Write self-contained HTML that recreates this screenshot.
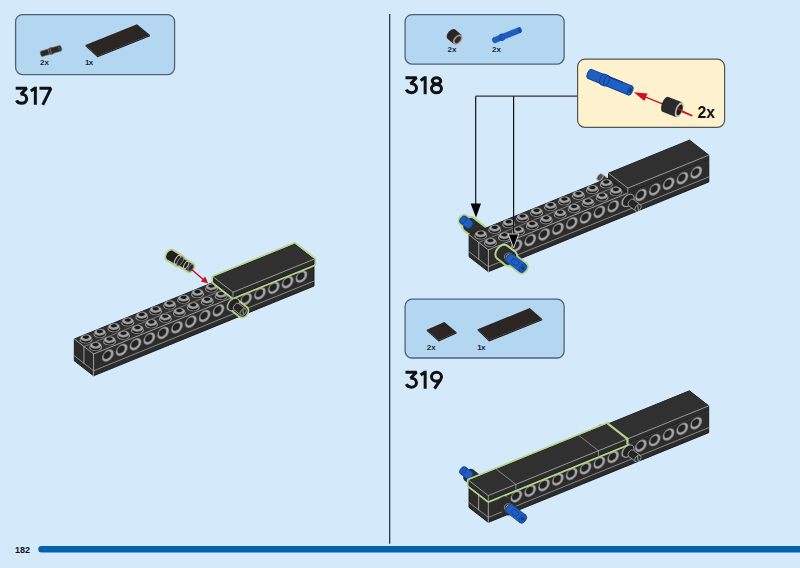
<!DOCTYPE html>
<html><head><meta charset="utf-8"><style>
html,body{margin:0;padding:0;background:#d4e9f9;width:800px;height:568px;overflow:hidden;}
svg{display:block;}
</style></head><body>
<svg width="800" height="568" viewBox="0 0 800 568">
<rect width="800" height="568" fill="#d4e9f9"/>
<rect x="15.6" y="14.6" width="159" height="60" rx="7" fill="#b3d6f1" stroke="#4f6376" stroke-width="1.3"/>
<rect x="405.1" y="14.6" width="159" height="49.5" rx="7" fill="#b3d6f1" stroke="#4f6376" stroke-width="1.3"/>
<rect x="405.1" y="299.2" width="159" height="58.8" rx="7" fill="#b3d6f1" stroke="#4f6376" stroke-width="1.3"/>
<line x1="389.7" y1="14" x2="389.7" y2="543.8" stroke="#1e2c38" stroke-width="1.2"/>
<path d="M41.5 546 H800 V552.5 H41.5 A3.25 3.25 0 0 1 41.5 546 Z" fill="#0262b0"/>
<path d="M0.2,1.5 H11.2 L5.2,7.6 M5.0,7.2 C9.0,7.2 11.2,9.4 11.2,12.0 C11.2,14.7 9.0,16.5 6.1,16.5 C3.8,16.5 1.9,15.4 1.0,13.5 M19.85,0 V18 M15.3,4.2 L19.6,1.3 M24.0,1.5 H35.4 L27.3,18" transform="translate(15.5 86.8)" fill="none" stroke="#111" stroke-width="3.0" stroke-linejoin="miter" stroke-miterlimit="1.6" stroke-linecap="butt"/>
<path d="M0.2,1.5 H11.2 L5.2,7.6 M5.0,7.2 C9.0,7.2 11.2,9.4 11.2,12.0 C11.2,14.7 9.0,16.5 6.1,16.5 C3.8,16.5 1.9,15.4 1.0,13.5 M19.85,0 V18 M15.3,4.2 L19.6,1.3 M31.2,1.5 C33.6,1.5 35.4,2.9 35.4,4.6 C35.4,6.4 33.6,7.8 31.2,7.8 C28.8,7.8 27.0,6.4 27.0,4.6 C27.0,2.9 28.8,1.5 31.2,1.5 Z M31.2,8.2 C34.0,8.2 36.2,10.1 36.2,12.4 C36.2,14.7 34.0,16.5 31.2,16.5 C28.4,16.5 26.2,14.7 26.2,12.4 C26.2,10.1 28.4,8.2 31.2,8.2 Z" transform="translate(405.3 76.2)" fill="none" stroke="#111" stroke-width="3.0" stroke-linejoin="miter" stroke-miterlimit="1.6" stroke-linecap="butt"/>
<path d="M0.2,1.5 H11.2 L5.2,7.6 M5.0,7.2 C9.0,7.2 11.2,9.4 11.2,12.0 C11.2,14.7 9.0,16.5 6.1,16.5 C3.8,16.5 1.9,15.4 1.0,13.5 M19.85,0 V18 M15.3,4.2 L19.6,1.3 M31.2,1.5 C34.0,1.5 36.2,3.5 36.2,6.0 C36.2,8.5 34.0,10.5 31.2,10.5 C28.4,10.5 26.2,8.5 26.2,6.0 C26.2,3.5 28.4,1.5 31.2,1.5 Z M35.6,8.4 L29.2,18" transform="translate(405.3 370.7)" fill="none" stroke="#111" stroke-width="3.0" stroke-linejoin="miter" stroke-miterlimit="1.6" stroke-linecap="butt"/>
<text x="15" y="553" font-family="Liberation Sans, sans-serif" font-weight="bold" font-size="9" fill="#111">182</text>
<text x="40" y="65.3" font-family="Liberation Sans, sans-serif" font-weight="bold" font-size="8" fill="#1e2a36">2x</text>
<text x="85" y="65.3" font-family="Liberation Sans, sans-serif" font-weight="bold" font-size="8" fill="#1e2a36" letter-spacing="-0.6">1x</text>
<text x="447.5" y="52.2" font-family="Liberation Sans, sans-serif" font-weight="bold" font-size="8" fill="#1e2a36">2x</text>
<text x="492" y="52.2" font-family="Liberation Sans, sans-serif" font-weight="bold" font-size="8" fill="#1e2a36">2x</text>
<text x="426.8" y="350" font-family="Liberation Sans, sans-serif" font-weight="bold" font-size="8" fill="#1e2a36">2x</text>
<text x="477.2" y="350" font-family="Liberation Sans, sans-serif" font-weight="bold" font-size="8" fill="#1e2a36" letter-spacing="-0.6">1x</text>
<polygon points="85.5,45 137,24.2 150,35 97.5,56" fill="#2b2624" stroke="none" stroke-width="0" stroke-linejoin="round" />
<polygon points="85.5,45 97.5,56 150,35 150,36.3 97.5,57.3 85.5,46.3" fill="#1c1816" stroke="none" stroke-width="0" stroke-linejoin="round" />
<g transform="translate(41.8 53.8) rotate(-16.64)"><ellipse cx="0" cy="0" rx="1.45" ry="2.9" fill="#2d2927" stroke="#8a8580" stroke-width="0.5"/><rect x="0" y="-2.9" width="9.08" height="5.8" fill="#2d2927"/><line x1="0" y1="-2.9" x2="9.08" y2="-2.9" stroke="#8a8580" stroke-width="0.5"/><line x1="0" y1="2.9" x2="9.08" y2="2.9" stroke="#8a8580" stroke-width="0.5"/><ellipse cx="9.08" cy="0" rx="1.45" ry="2.9" fill="#4a4542" stroke="#8a8580" stroke-width="0.5"/></g>
<g transform="translate(50.2 51.3) rotate(-15.52)"><ellipse cx="0" cy="0" rx="1.7" ry="3.4" fill="#3a3634" stroke="#8a8580" stroke-width="0.5"/><rect x="0" y="-3.4" width="1.87" height="6.8" fill="#3a3634"/><line x1="0" y1="-3.4" x2="1.87" y2="-3.4" stroke="#8a8580" stroke-width="0.5"/><line x1="0" y1="3.4" x2="1.87" y2="3.4" stroke="#8a8580" stroke-width="0.5"/><ellipse cx="1.87" cy="0" rx="1.7" ry="3.4" fill="#3a3634" stroke="#8a8580" stroke-width="0.5"/></g>
<g transform="translate(52.2 50.6) rotate(-16.04)"><ellipse cx="0" cy="0" rx="1.45" ry="2.9" fill="#2d2927" stroke="#6a6560" stroke-width="0.5"/><rect x="0" y="-2.9" width="8.32" height="5.8" fill="#2d2927"/><line x1="0" y1="-2.9" x2="8.32" y2="-2.9" stroke="#6a6560" stroke-width="0.5"/><line x1="0" y1="2.9" x2="8.32" y2="2.9" stroke="#6a6560" stroke-width="0.5"/><ellipse cx="8.32" cy="0" rx="1.45" ry="2.9" fill="#3b3735" stroke="#6a6560" stroke-width="0.5"/></g>
<g transform="translate(451.5 34.2) rotate(41.52)"><ellipse cx="0" cy="0" rx="3.72" ry="6" fill="#2b2624" /><rect x="0" y="-6" width="8.15" height="12" fill="#2b2624"/><ellipse cx="8.15" cy="0" rx="3.72" ry="6" fill="#9a9a9a" /></g>
<ellipse cx="457.8" cy="39.7" rx="2.3" ry="3.9" transform="rotate(41 457.8 39.7)" fill="#3a2a26"/>
<g transform="translate(494 40.4) rotate(-21.99)"><ellipse cx="0" cy="0" rx="1.49" ry="2.7" fill="#1f5fc4" stroke="#123f90" stroke-width="0.4"/><rect x="0" y="-2.7" width="28.04" height="5.4" fill="#1f5fc4"/><line x1="0" y1="-2.7" x2="28.04" y2="-2.7" stroke="#123f90" stroke-width="0.4"/><line x1="0" y1="2.7" x2="28.04" y2="2.7" stroke="#123f90" stroke-width="0.4"/><ellipse cx="28.04" cy="0" rx="1.49" ry="2.7" fill="#1a4fa8" stroke="#123f90" stroke-width="0.4"/></g>
<g transform="translate(501 37.6) rotate(-21.25)"><ellipse cx="0" cy="0" rx="1.65" ry="3.3" fill="#1f5fc4" stroke="#123f90" stroke-width="0.4"/><rect x="0" y="-3.3" width="1.93" height="6.6" fill="#1f5fc4"/><line x1="0" y1="-3.3" x2="1.93" y2="-3.3" stroke="#123f90" stroke-width="0.4"/><line x1="0" y1="3.3" x2="1.93" y2="3.3" stroke="#123f90" stroke-width="0.4"/><ellipse cx="1.93" cy="0" rx="1.65" ry="3.3" fill="#1f5fc4" stroke="#123f90" stroke-width="0.4"/></g>
<polygon points="426.8,329.7 444.4,321.9 456.6,332.3 438.7,340.2" fill="#2b2624" stroke="none" stroke-width="0" stroke-linejoin="round" />
<polygon points="426.8,329.7 438.7,340.2 456.6,332.3 456.6,333.6 438.7,341.5 426.8,331" fill="#1c1816" stroke="none" stroke-width="0" stroke-linejoin="round" />
<polygon points="477.7,329.2 529.7,308.1 542.2,319 489.1,340.2" fill="#2b2624" stroke="none" stroke-width="0" stroke-linejoin="round" />
<polygon points="477.7,329.2 489.1,340.2 542.2,319 542.2,320.3 489.1,341.5 477.7,330.5" fill="#1c1816" stroke="none" stroke-width="0" stroke-linejoin="round" />
<polygon points="93.6,375.8 314,286.04 314,264.24 294.7,249.24 74.3,339 74.3,360.8" fill="#2c2c2c" stroke="#151515" stroke-width="0.9" stroke-linejoin="round" />
<polygon points="93.6,354 314,264.24 294.7,249.24 74.3,339" fill="#303030" stroke="none" stroke-width="0" stroke-linejoin="round" />
<line x1="93.6" y1="375.8" x2="93.6" y2="354" stroke="#bdbdbd" stroke-width="0.8" stroke-linecap="round" />
<line x1="93.6" y1="354" x2="314" y2="264.24" stroke="#bdbdbd" stroke-width="0.8" stroke-linecap="round" />
<line x1="93.6" y1="354" x2="74.3" y2="339" stroke="#bdbdbd" stroke-width="0.8" stroke-linecap="round" />
<line x1="83.95" y1="363.3" x2="83.95" y2="346.5" stroke="#bdbdbd" stroke-width="0.8" stroke-linecap="round" />
<line x1="93.6" y1="370.8" x2="314" y2="281.04" stroke="#a8a8a8" stroke-width="0.75" stroke-linecap="round" />
<line x1="93.6" y1="370.8" x2="74.3" y2="355.8" stroke="#a8a8a8" stroke-width="0.75" stroke-linecap="round" />
<line x1="83.95" y1="346.5" x2="221.7" y2="290.4" stroke="#9a9a9a" stroke-width="0.7" stroke-linecap="round" />
<g transform="matrix(13.78 -5.61 0 13.6 107.84 355.5)"><circle r="0.42" fill="#a4a4a4" stroke="#5a5a5a" stroke-width="0.03"/><circle cx="-0.045" cy="-0.05" r="0.27" fill="#222"/><circle cx="-0.045" cy="-0.05" r="0.27" fill="none" stroke="#6e6e6e" stroke-width="0.025"/></g>
<g transform="matrix(13.78 -5.61 0 13.6 121.67 349.87)"><circle r="0.42" fill="#a4a4a4" stroke="#5a5a5a" stroke-width="0.03"/><circle cx="-0.045" cy="-0.05" r="0.27" fill="#222"/><circle cx="-0.045" cy="-0.05" r="0.27" fill="none" stroke="#6e6e6e" stroke-width="0.025"/></g>
<g transform="matrix(13.78 -5.61 0 13.6 135.5 344.23)"><circle r="0.42" fill="#a4a4a4" stroke="#5a5a5a" stroke-width="0.03"/><circle cx="-0.045" cy="-0.05" r="0.27" fill="#222"/><circle cx="-0.045" cy="-0.05" r="0.27" fill="none" stroke="#6e6e6e" stroke-width="0.025"/></g>
<g transform="matrix(13.78 -5.61 0 13.6 149.33 338.6)"><circle r="0.42" fill="#a4a4a4" stroke="#5a5a5a" stroke-width="0.03"/><circle cx="-0.045" cy="-0.05" r="0.27" fill="#222"/><circle cx="-0.045" cy="-0.05" r="0.27" fill="none" stroke="#6e6e6e" stroke-width="0.025"/></g>
<g transform="matrix(13.78 -5.61 0 13.6 163.16 332.97)"><circle r="0.42" fill="#a4a4a4" stroke="#5a5a5a" stroke-width="0.03"/><circle cx="-0.045" cy="-0.05" r="0.27" fill="#222"/><circle cx="-0.045" cy="-0.05" r="0.27" fill="none" stroke="#6e6e6e" stroke-width="0.025"/></g>
<g transform="matrix(13.78 -5.61 0 13.6 176.99 327.34)"><circle r="0.42" fill="#a4a4a4" stroke="#5a5a5a" stroke-width="0.03"/><circle cx="-0.045" cy="-0.05" r="0.27" fill="#222"/><circle cx="-0.045" cy="-0.05" r="0.27" fill="none" stroke="#6e6e6e" stroke-width="0.025"/></g>
<g transform="matrix(13.78 -5.61 0 13.6 190.82 321.7)"><circle r="0.42" fill="#a4a4a4" stroke="#5a5a5a" stroke-width="0.03"/><circle cx="-0.045" cy="-0.05" r="0.27" fill="#222"/><circle cx="-0.045" cy="-0.05" r="0.27" fill="none" stroke="#6e6e6e" stroke-width="0.025"/></g>
<g transform="matrix(13.78 -5.61 0 13.6 204.65 316.07)"><circle r="0.42" fill="#a4a4a4" stroke="#5a5a5a" stroke-width="0.03"/><circle cx="-0.045" cy="-0.05" r="0.27" fill="#222"/><circle cx="-0.045" cy="-0.05" r="0.27" fill="none" stroke="#6e6e6e" stroke-width="0.025"/></g>
<g transform="matrix(13.78 -5.61 0 13.6 218.48 310.44)"><circle r="0.42" fill="#a4a4a4" stroke="#5a5a5a" stroke-width="0.03"/><circle cx="-0.045" cy="-0.05" r="0.27" fill="#222"/><circle cx="-0.045" cy="-0.05" r="0.27" fill="none" stroke="#6e6e6e" stroke-width="0.025"/></g>
<g transform="matrix(13.78 -5.61 0 13.6 232.31 304.81)"><circle r="0.42" fill="#a4a4a4" stroke="#5a5a5a" stroke-width="0.03"/><circle cx="-0.045" cy="-0.05" r="0.27" fill="#222"/><circle cx="-0.045" cy="-0.05" r="0.27" fill="none" stroke="#6e6e6e" stroke-width="0.025"/></g>
<g transform="matrix(13.78 -5.61 0 13.6 246.14 299.17)"><circle r="0.42" fill="#a4a4a4" stroke="#5a5a5a" stroke-width="0.03"/><circle cx="-0.045" cy="-0.05" r="0.27" fill="#222"/><circle cx="-0.045" cy="-0.05" r="0.27" fill="none" stroke="#6e6e6e" stroke-width="0.025"/></g>
<g transform="matrix(13.78 -5.61 0 13.6 259.97 293.54)"><circle r="0.42" fill="#a4a4a4" stroke="#5a5a5a" stroke-width="0.03"/><circle cx="-0.045" cy="-0.05" r="0.27" fill="#222"/><circle cx="-0.045" cy="-0.05" r="0.27" fill="none" stroke="#6e6e6e" stroke-width="0.025"/></g>
<g transform="matrix(13.78 -5.61 0 13.6 273.8 287.91)"><circle r="0.42" fill="#a4a4a4" stroke="#5a5a5a" stroke-width="0.03"/><circle cx="-0.045" cy="-0.05" r="0.27" fill="#222"/><circle cx="-0.045" cy="-0.05" r="0.27" fill="none" stroke="#6e6e6e" stroke-width="0.025"/></g>
<g transform="matrix(13.78 -5.61 0 13.6 287.63 282.28)"><circle r="0.42" fill="#a4a4a4" stroke="#5a5a5a" stroke-width="0.03"/><circle cx="-0.045" cy="-0.05" r="0.27" fill="#222"/><circle cx="-0.045" cy="-0.05" r="0.27" fill="none" stroke="#6e6e6e" stroke-width="0.025"/></g>
<g transform="matrix(13.78 -5.61 0 13.6 301.46 276.65)"><circle r="0.42" fill="#a4a4a4" stroke="#5a5a5a" stroke-width="0.03"/><circle cx="-0.045" cy="-0.05" r="0.27" fill="#222"/><circle cx="-0.045" cy="-0.05" r="0.27" fill="none" stroke="#6e6e6e" stroke-width="0.025"/></g>
<g transform="matrix(13.78 -5.61 -9.65 -7.5 86.01 339.94)"><circle r="0.35" fill="#1e1e1e" stroke="#9a9a9a" stroke-width="0.07"/></g>
<rect x="80.59" y="337.94" width="10.84" height="2" fill="#1c1c1c"/>
<g transform="matrix(13.78 -5.61 -9.65 -7.5 86.01 337.94)"><circle r="0.34" fill="#b0b0b0"/><circle r="0.24" fill="#9a9a9a"/><circle cy="0.075" cx="0.05" r="0.18" fill="#1a1a1a"/><circle r="0.34" fill="none" stroke="#5c5c5c" stroke-width="0.03"/></g>
<g transform="matrix(13.78 -5.61 -9.65 -7.5 99.96 334.26)"><circle r="0.35" fill="#1e1e1e" stroke="#9a9a9a" stroke-width="0.07"/></g>
<rect x="94.54" y="332.26" width="10.84" height="2" fill="#1c1c1c"/>
<g transform="matrix(13.78 -5.61 -9.65 -7.5 99.96 332.26)"><circle r="0.34" fill="#b0b0b0"/><circle r="0.24" fill="#9a9a9a"/><circle cy="0.075" cx="0.05" r="0.18" fill="#1a1a1a"/><circle r="0.34" fill="none" stroke="#5c5c5c" stroke-width="0.03"/></g>
<g transform="matrix(13.78 -5.61 -9.65 -7.5 113.91 328.58)"><circle r="0.35" fill="#1e1e1e" stroke="#9a9a9a" stroke-width="0.07"/></g>
<rect x="108.49" y="326.58" width="10.84" height="2" fill="#1c1c1c"/>
<g transform="matrix(13.78 -5.61 -9.65 -7.5 113.91 326.58)"><circle r="0.34" fill="#b0b0b0"/><circle r="0.24" fill="#9a9a9a"/><circle cy="0.075" cx="0.05" r="0.18" fill="#1a1a1a"/><circle r="0.34" fill="none" stroke="#5c5c5c" stroke-width="0.03"/></g>
<g transform="matrix(13.78 -5.61 -9.65 -7.5 127.85 322.9)"><circle r="0.35" fill="#1e1e1e" stroke="#9a9a9a" stroke-width="0.07"/></g>
<rect x="122.44" y="320.9" width="10.84" height="2" fill="#1c1c1c"/>
<g transform="matrix(13.78 -5.61 -9.65 -7.5 127.85 320.9)"><circle r="0.34" fill="#b0b0b0"/><circle r="0.24" fill="#9a9a9a"/><circle cy="0.075" cx="0.05" r="0.18" fill="#1a1a1a"/><circle r="0.34" fill="none" stroke="#5c5c5c" stroke-width="0.03"/></g>
<g transform="matrix(13.78 -5.61 -9.65 -7.5 141.8 317.22)"><circle r="0.35" fill="#1e1e1e" stroke="#9a9a9a" stroke-width="0.07"/></g>
<rect x="136.38" y="315.22" width="10.84" height="2" fill="#1c1c1c"/>
<g transform="matrix(13.78 -5.61 -9.65 -7.5 141.8 315.22)"><circle r="0.34" fill="#b0b0b0"/><circle r="0.24" fill="#9a9a9a"/><circle cy="0.075" cx="0.05" r="0.18" fill="#1a1a1a"/><circle r="0.34" fill="none" stroke="#5c5c5c" stroke-width="0.03"/></g>
<g transform="matrix(13.78 -5.61 -9.65 -7.5 155.75 311.54)"><circle r="0.35" fill="#1e1e1e" stroke="#9a9a9a" stroke-width="0.07"/></g>
<rect x="150.33" y="309.54" width="10.84" height="2" fill="#1c1c1c"/>
<g transform="matrix(13.78 -5.61 -9.65 -7.5 155.75 309.54)"><circle r="0.34" fill="#b0b0b0"/><circle r="0.24" fill="#9a9a9a"/><circle cy="0.075" cx="0.05" r="0.18" fill="#1a1a1a"/><circle r="0.34" fill="none" stroke="#5c5c5c" stroke-width="0.03"/></g>
<g transform="matrix(13.78 -5.61 -9.65 -7.5 169.7 305.86)"><circle r="0.35" fill="#1e1e1e" stroke="#9a9a9a" stroke-width="0.07"/></g>
<rect x="164.28" y="303.86" width="10.84" height="2" fill="#1c1c1c"/>
<g transform="matrix(13.78 -5.61 -9.65 -7.5 169.7 303.86)"><circle r="0.34" fill="#b0b0b0"/><circle r="0.24" fill="#9a9a9a"/><circle cy="0.075" cx="0.05" r="0.18" fill="#1a1a1a"/><circle r="0.34" fill="none" stroke="#5c5c5c" stroke-width="0.03"/></g>
<g transform="matrix(13.78 -5.61 -9.65 -7.5 183.64 300.18)"><circle r="0.35" fill="#1e1e1e" stroke="#9a9a9a" stroke-width="0.07"/></g>
<rect x="178.22" y="298.18" width="10.84" height="2" fill="#1c1c1c"/>
<g transform="matrix(13.78 -5.61 -9.65 -7.5 183.64 298.18)"><circle r="0.34" fill="#b0b0b0"/><circle r="0.24" fill="#9a9a9a"/><circle cy="0.075" cx="0.05" r="0.18" fill="#1a1a1a"/><circle r="0.34" fill="none" stroke="#5c5c5c" stroke-width="0.03"/></g>
<g transform="matrix(13.78 -5.61 -9.65 -7.5 197.59 294.5)"><circle r="0.35" fill="#1e1e1e" stroke="#9a9a9a" stroke-width="0.07"/></g>
<rect x="192.17" y="292.5" width="10.84" height="2" fill="#1c1c1c"/>
<g transform="matrix(13.78 -5.61 -9.65 -7.5 197.59 292.5)"><circle r="0.34" fill="#b0b0b0"/><circle r="0.24" fill="#9a9a9a"/><circle cy="0.075" cx="0.05" r="0.18" fill="#1a1a1a"/><circle r="0.34" fill="none" stroke="#5c5c5c" stroke-width="0.03"/></g>
<g transform="matrix(13.78 -5.61 -9.65 -7.5 211.54 288.82)"><circle r="0.35" fill="#1e1e1e" stroke="#9a9a9a" stroke-width="0.07"/></g>
<rect x="206.12" y="286.82" width="10.84" height="2" fill="#1c1c1c"/>
<g transform="matrix(13.78 -5.61 -9.65 -7.5 211.54 286.82)"><circle r="0.34" fill="#b0b0b0"/><circle r="0.24" fill="#9a9a9a"/><circle cy="0.075" cx="0.05" r="0.18" fill="#1a1a1a"/><circle r="0.34" fill="none" stroke="#5c5c5c" stroke-width="0.03"/></g>
<g transform="matrix(13.78 -5.61 -9.65 -7.5 95.66 347.44)"><circle r="0.35" fill="#1e1e1e" stroke="#9a9a9a" stroke-width="0.07"/></g>
<rect x="90.24" y="345.44" width="10.84" height="2" fill="#1c1c1c"/>
<g transform="matrix(13.78 -5.61 -9.65 -7.5 95.66 345.44)"><circle r="0.34" fill="#b0b0b0"/><circle r="0.24" fill="#9a9a9a"/><circle cy="0.075" cx="0.05" r="0.18" fill="#1a1a1a"/><circle r="0.34" fill="none" stroke="#5c5c5c" stroke-width="0.03"/></g>
<g transform="matrix(13.78 -5.61 -9.65 -7.5 109.61 341.76)"><circle r="0.35" fill="#1e1e1e" stroke="#9a9a9a" stroke-width="0.07"/></g>
<rect x="104.19" y="339.76" width="10.84" height="2" fill="#1c1c1c"/>
<g transform="matrix(13.78 -5.61 -9.65 -7.5 109.61 339.76)"><circle r="0.34" fill="#b0b0b0"/><circle r="0.24" fill="#9a9a9a"/><circle cy="0.075" cx="0.05" r="0.18" fill="#1a1a1a"/><circle r="0.34" fill="none" stroke="#5c5c5c" stroke-width="0.03"/></g>
<g transform="matrix(13.78 -5.61 -9.65 -7.5 123.56 336.08)"><circle r="0.35" fill="#1e1e1e" stroke="#9a9a9a" stroke-width="0.07"/></g>
<rect x="118.14" y="334.08" width="10.84" height="2" fill="#1c1c1c"/>
<g transform="matrix(13.78 -5.61 -9.65 -7.5 123.56 334.08)"><circle r="0.34" fill="#b0b0b0"/><circle r="0.24" fill="#9a9a9a"/><circle cy="0.075" cx="0.05" r="0.18" fill="#1a1a1a"/><circle r="0.34" fill="none" stroke="#5c5c5c" stroke-width="0.03"/></g>
<g transform="matrix(13.78 -5.61 -9.65 -7.5 137.5 330.4)"><circle r="0.35" fill="#1e1e1e" stroke="#9a9a9a" stroke-width="0.07"/></g>
<rect x="132.09" y="328.4" width="10.84" height="2" fill="#1c1c1c"/>
<g transform="matrix(13.78 -5.61 -9.65 -7.5 137.5 328.4)"><circle r="0.34" fill="#b0b0b0"/><circle r="0.24" fill="#9a9a9a"/><circle cy="0.075" cx="0.05" r="0.18" fill="#1a1a1a"/><circle r="0.34" fill="none" stroke="#5c5c5c" stroke-width="0.03"/></g>
<g transform="matrix(13.78 -5.61 -9.65 -7.5 151.45 324.72)"><circle r="0.35" fill="#1e1e1e" stroke="#9a9a9a" stroke-width="0.07"/></g>
<rect x="146.03" y="322.72" width="10.84" height="2" fill="#1c1c1c"/>
<g transform="matrix(13.78 -5.61 -9.65 -7.5 151.45 322.72)"><circle r="0.34" fill="#b0b0b0"/><circle r="0.24" fill="#9a9a9a"/><circle cy="0.075" cx="0.05" r="0.18" fill="#1a1a1a"/><circle r="0.34" fill="none" stroke="#5c5c5c" stroke-width="0.03"/></g>
<g transform="matrix(13.78 -5.61 -9.65 -7.5 165.4 319.04)"><circle r="0.35" fill="#1e1e1e" stroke="#9a9a9a" stroke-width="0.07"/></g>
<rect x="159.98" y="317.04" width="10.84" height="2" fill="#1c1c1c"/>
<g transform="matrix(13.78 -5.61 -9.65 -7.5 165.4 317.04)"><circle r="0.34" fill="#b0b0b0"/><circle r="0.24" fill="#9a9a9a"/><circle cy="0.075" cx="0.05" r="0.18" fill="#1a1a1a"/><circle r="0.34" fill="none" stroke="#5c5c5c" stroke-width="0.03"/></g>
<g transform="matrix(13.78 -5.61 -9.65 -7.5 179.35 313.36)"><circle r="0.35" fill="#1e1e1e" stroke="#9a9a9a" stroke-width="0.07"/></g>
<rect x="173.93" y="311.36" width="10.84" height="2" fill="#1c1c1c"/>
<g transform="matrix(13.78 -5.61 -9.65 -7.5 179.35 311.36)"><circle r="0.34" fill="#b0b0b0"/><circle r="0.24" fill="#9a9a9a"/><circle cy="0.075" cx="0.05" r="0.18" fill="#1a1a1a"/><circle r="0.34" fill="none" stroke="#5c5c5c" stroke-width="0.03"/></g>
<g transform="matrix(13.78 -5.61 -9.65 -7.5 193.29 307.68)"><circle r="0.35" fill="#1e1e1e" stroke="#9a9a9a" stroke-width="0.07"/></g>
<rect x="187.87" y="305.68" width="10.84" height="2" fill="#1c1c1c"/>
<g transform="matrix(13.78 -5.61 -9.65 -7.5 193.29 305.68)"><circle r="0.34" fill="#b0b0b0"/><circle r="0.24" fill="#9a9a9a"/><circle cy="0.075" cx="0.05" r="0.18" fill="#1a1a1a"/><circle r="0.34" fill="none" stroke="#5c5c5c" stroke-width="0.03"/></g>
<g transform="matrix(13.78 -5.61 -9.65 -7.5 207.24 302)"><circle r="0.35" fill="#1e1e1e" stroke="#9a9a9a" stroke-width="0.07"/></g>
<rect x="201.82" y="300" width="10.84" height="2" fill="#1c1c1c"/>
<g transform="matrix(13.78 -5.61 -9.65 -7.5 207.24 300)"><circle r="0.34" fill="#b0b0b0"/><circle r="0.24" fill="#9a9a9a"/><circle cy="0.075" cx="0.05" r="0.18" fill="#1a1a1a"/><circle r="0.34" fill="none" stroke="#5c5c5c" stroke-width="0.03"/></g>
<g transform="matrix(13.78 -5.61 -9.65 -7.5 221.19 296.32)"><circle r="0.35" fill="#1e1e1e" stroke="#9a9a9a" stroke-width="0.07"/></g>
<rect x="215.77" y="294.32" width="10.84" height="2" fill="#1c1c1c"/>
<g transform="matrix(13.78 -5.61 -9.65 -7.5 221.19 294.32)"><circle r="0.34" fill="#b0b0b0"/><circle r="0.24" fill="#9a9a9a"/><circle cy="0.075" cx="0.05" r="0.18" fill="#1a1a1a"/><circle r="0.34" fill="none" stroke="#5c5c5c" stroke-width="0.03"/></g>
<polygon points="233,297.23 314,264.24 314,259.24 294.7,244.24 213.7,277.23 213.7,282.23" fill="none" stroke="#b4d589" stroke-width="4.4" stroke-linejoin="round" />
<polygon points="233,297.23 314,264.24 314,259.24 294.7,244.24 213.7,277.23 213.7,282.23" fill="#2c2c2c" stroke="#151515" stroke-width="0.9" stroke-linejoin="round" />
<polygon points="233,292.23 314,259.24 294.7,244.24 213.7,277.23" fill="#303030" stroke="none" stroke-width="0" stroke-linejoin="round" />
<line x1="233" y1="292.23" x2="314" y2="259.24" stroke="#a5a5a5" stroke-width="0.9" stroke-linecap="round" />
<line x1="233" y1="292.23" x2="213.7" y2="277.23" stroke="#a5a5a5" stroke-width="0.9" stroke-linecap="round" />
<line x1="233" y1="297.23" x2="233" y2="292.23" stroke="#a5a5a5" stroke-width="0.8" stroke-linecap="round" />
<g transform="translate(233.55 304.5) rotate(37.85)"><ellipse cx="0" cy="0" rx="5.6" ry="7" fill="#b4d589" /><rect x="0" y="-7" width="12.22" height="14" fill="#b4d589"/><ellipse cx="12.22" cy="0" rx="5.6" ry="7" fill="#b4d589" /></g>
<g transform="translate(233.55 304.5) rotate(37.85)"><ellipse cx="0" cy="0" rx="4.06" ry="5.2" fill="#262626" /><rect x="0" y="-5.2" width="12.22" height="10.4" fill="#262626"/><ellipse cx="12.22" cy="0" rx="4.06" ry="5.2" fill="#262626" /></g>
<g transform="matrix(13.78 -5.61 0 13.6 233.55 304.5)"><circle r="0.42" fill="#222" stroke="#b8b8b8" stroke-width="0.06"/></g>
<g transform="translate(236.45 306.75) rotate(37.85)"><ellipse cx="0" cy="0" rx="2.61" ry="3.9" fill="#262626" stroke="#b5b5b5" stroke-width="0.7"/><rect x="0" y="-3.9" width="8.56" height="7.8" fill="#262626"/><line x1="0" y1="-3.9" x2="8.56" y2="-3.9" stroke="#b5b5b5" stroke-width="0.7"/><line x1="0" y1="3.9" x2="8.56" y2="3.9" stroke="#b5b5b5" stroke-width="0.7"/><ellipse cx="8.56" cy="0" rx="2.61" ry="3.9" fill="#2a2a2a" stroke="#b5b5b5" stroke-width="0.7"/></g>
<line x1="242.9" y1="309.8" x2="243.5" y2="314" stroke="#a8a8a8" stroke-width="0.9" stroke-linecap="round" />
<g transform="translate(169.8 255) rotate(31.48)"><ellipse cx="0" cy="0" rx="4.55" ry="7" fill="#b4d589" /><rect x="0" y="-7" width="11.49" height="14" fill="#b4d589"/><ellipse cx="11.49" cy="0" rx="4.55" ry="7" fill="#b4d589" /></g>
<g transform="translate(180.6 261.6) rotate(31.29)"><ellipse cx="0" cy="0" rx="3.9" ry="6" fill="#b4d589" /><rect x="0" y="-6" width="11.94" height="12" fill="#b4d589"/><ellipse cx="11.94" cy="0" rx="3.9" ry="6" fill="#b4d589" /></g>
<g transform="translate(169.8 255) rotate(31.48)"><ellipse cx="0" cy="0" rx="3" ry="5" fill="#1f1f1f" /><rect x="0" y="-5" width="11.49" height="10" fill="#1f1f1f"/><ellipse cx="11.49" cy="0" rx="3" ry="5" fill="#2a2a2a" /></g>
<g transform="translate(180.6 261.6) rotate(31.29)"><ellipse cx="0" cy="0" rx="2.4" ry="4" fill="#222" /><rect x="0" y="-4" width="11.94" height="8" fill="#222"/><ellipse cx="11.94" cy="0" rx="2.4" ry="4" fill="#2a2a2a" /></g>
<ellipse cx="177.6" cy="259.8" rx="2.2" ry="5.0" transform="rotate(31 177.6 259.8)" fill="none" stroke="#c8c8c8" stroke-width="1.1"/>
<ellipse cx="180.2" cy="261.4" rx="2.3" ry="5.2" transform="rotate(31 180.2 261.4)" fill="#2a2a2a" stroke="#9a9a9a" stroke-width="0.7"/>
<ellipse cx="186.2" cy="265.0" rx="1.9" ry="4.0" transform="rotate(31 186.2 265.0)" fill="none" stroke="#c0c0c0" stroke-width="1.0"/>
<ellipse cx="190.8" cy="267.8" rx="2.2" ry="4.0" transform="rotate(31 190.8 267.8)" fill="#2a2a2a" stroke="#aaa" stroke-width="0.6"/>
<line x1="192" y1="269.8" x2="203.5" y2="279.8" stroke="#c8121e" stroke-width="1.4" stroke-linecap="round" />
<polygon points="208.2,283.6 200.9,281.6 205.2,276.6" fill="#c8121e" stroke="none" stroke-width="0" stroke-linejoin="round" />
<g transform="translate(482.87 235.09) rotate(-142.15)"><ellipse cx="0" cy="0" rx="6.69" ry="9" fill="#b4d589" /><rect x="0" y="-9" width="17.72" height="18" fill="#b4d589"/><ellipse cx="17.72" cy="0" rx="6.69" ry="9" fill="#b4d589" /></g>
<g transform="translate(469.36 224.59) rotate(-142.15)"><ellipse cx="0" cy="0" rx="4.88" ry="6.3" fill="#b4d589" /><rect x="0" y="-6.3" width="7.94" height="12.6" fill="#b4d589"/><ellipse cx="7.94" cy="0" rx="4.88" ry="6.3" fill="#b4d589" /></g>
<g transform="translate(482.87 235.09) rotate(-142.15)"><ellipse cx="0" cy="0" rx="4.69" ry="7" fill="#2c2c2c" /><rect x="0" y="-7" width="17.72" height="14" fill="#2c2c2c"/><ellipse cx="17.72" cy="0" rx="4.69" ry="7" fill="#2c2c2c" /></g>
<g transform="translate(469.36 224.59) rotate(-142.15)"><ellipse cx="0" cy="0" rx="2.88" ry="4.3" fill="#1f5fc4" stroke="#0c3a88" stroke-width="0.6"/><rect x="0" y="-4.3" width="7.94" height="8.6" fill="#1f5fc4"/><line x1="0" y1="-4.3" x2="7.94" y2="-4.3" stroke="#0c3a88" stroke-width="0.6"/><line x1="0" y1="4.3" x2="7.94" y2="4.3" stroke="#0c3a88" stroke-width="0.6"/><ellipse cx="7.94" cy="0" rx="2.88" ry="4.3" fill="#1d57b8" stroke="#0c3a88" stroke-width="0.6"/></g>
<g transform="translate(609.61 184.68) rotate(-142.15)"><ellipse cx="0" cy="0" rx="2.68" ry="4" fill="#3a3a3a" stroke="#c8c8c8" stroke-width="0.8"/><rect x="0" y="-4" width="12.22" height="8" fill="#3a3a3a"/><line x1="0" y1="-4" x2="12.22" y2="-4" stroke="#c8c8c8" stroke-width="0.8"/><line x1="0" y1="4" x2="12.22" y2="4" stroke="#c8c8c8" stroke-width="0.8"/><ellipse cx="12.22" cy="0" rx="2.68" ry="4" fill="#505050" stroke="#c8c8c8" stroke-width="0.8"/></g>
<polygon points="488.4,271.7 708.8,181.94 708.8,160.14 689.5,145.14 469.1,234.9 469.1,256.7" fill="#2c2c2c" stroke="#151515" stroke-width="0.9" stroke-linejoin="round" />
<polygon points="488.4,249.9 708.8,160.14 689.5,145.14 469.1,234.9" fill="#303030" stroke="none" stroke-width="0" stroke-linejoin="round" />
<line x1="488.4" y1="271.7" x2="488.4" y2="249.9" stroke="#bdbdbd" stroke-width="0.8" stroke-linecap="round" />
<line x1="488.4" y1="249.9" x2="708.8" y2="160.14" stroke="#bdbdbd" stroke-width="0.8" stroke-linecap="round" />
<line x1="488.4" y1="249.9" x2="469.1" y2="234.9" stroke="#bdbdbd" stroke-width="0.8" stroke-linecap="round" />
<line x1="478.75" y1="259.2" x2="478.75" y2="242.4" stroke="#bdbdbd" stroke-width="0.8" stroke-linecap="round" />
<line x1="488.4" y1="266.7" x2="708.8" y2="176.94" stroke="#a8a8a8" stroke-width="0.75" stroke-linecap="round" />
<line x1="488.4" y1="266.7" x2="469.1" y2="251.7" stroke="#a8a8a8" stroke-width="0.75" stroke-linecap="round" />
<line x1="478.75" y1="242.4" x2="616.5" y2="186.3" stroke="#9a9a9a" stroke-width="0.7" stroke-linecap="round" />
<g transform="matrix(13.78 -5.61 0 13.6 502.64 251.4)"><circle r="0.42" fill="#a4a4a4" stroke="#5a5a5a" stroke-width="0.03"/><circle cx="-0.045" cy="-0.05" r="0.27" fill="#222"/><circle cx="-0.045" cy="-0.05" r="0.27" fill="none" stroke="#6e6e6e" stroke-width="0.025"/></g>
<g transform="matrix(13.78 -5.61 0 13.6 516.47 245.77)"><circle r="0.42" fill="#a4a4a4" stroke="#5a5a5a" stroke-width="0.03"/><circle cx="-0.045" cy="-0.05" r="0.27" fill="#222"/><circle cx="-0.045" cy="-0.05" r="0.27" fill="none" stroke="#6e6e6e" stroke-width="0.025"/></g>
<g transform="matrix(13.78 -5.61 0 13.6 530.3 240.13)"><circle r="0.42" fill="#a4a4a4" stroke="#5a5a5a" stroke-width="0.03"/><circle cx="-0.045" cy="-0.05" r="0.27" fill="#222"/><circle cx="-0.045" cy="-0.05" r="0.27" fill="none" stroke="#6e6e6e" stroke-width="0.025"/></g>
<g transform="matrix(13.78 -5.61 0 13.6 544.13 234.5)"><circle r="0.42" fill="#a4a4a4" stroke="#5a5a5a" stroke-width="0.03"/><circle cx="-0.045" cy="-0.05" r="0.27" fill="#222"/><circle cx="-0.045" cy="-0.05" r="0.27" fill="none" stroke="#6e6e6e" stroke-width="0.025"/></g>
<g transform="matrix(13.78 -5.61 0 13.6 557.96 228.87)"><circle r="0.42" fill="#a4a4a4" stroke="#5a5a5a" stroke-width="0.03"/><circle cx="-0.045" cy="-0.05" r="0.27" fill="#222"/><circle cx="-0.045" cy="-0.05" r="0.27" fill="none" stroke="#6e6e6e" stroke-width="0.025"/></g>
<g transform="matrix(13.78 -5.61 0 13.6 571.79 223.24)"><circle r="0.42" fill="#a4a4a4" stroke="#5a5a5a" stroke-width="0.03"/><circle cx="-0.045" cy="-0.05" r="0.27" fill="#222"/><circle cx="-0.045" cy="-0.05" r="0.27" fill="none" stroke="#6e6e6e" stroke-width="0.025"/></g>
<g transform="matrix(13.78 -5.61 0 13.6 585.62 217.6)"><circle r="0.42" fill="#a4a4a4" stroke="#5a5a5a" stroke-width="0.03"/><circle cx="-0.045" cy="-0.05" r="0.27" fill="#222"/><circle cx="-0.045" cy="-0.05" r="0.27" fill="none" stroke="#6e6e6e" stroke-width="0.025"/></g>
<g transform="matrix(13.78 -5.61 0 13.6 599.45 211.97)"><circle r="0.42" fill="#a4a4a4" stroke="#5a5a5a" stroke-width="0.03"/><circle cx="-0.045" cy="-0.05" r="0.27" fill="#222"/><circle cx="-0.045" cy="-0.05" r="0.27" fill="none" stroke="#6e6e6e" stroke-width="0.025"/></g>
<g transform="matrix(13.78 -5.61 0 13.6 613.28 206.34)"><circle r="0.42" fill="#a4a4a4" stroke="#5a5a5a" stroke-width="0.03"/><circle cx="-0.045" cy="-0.05" r="0.27" fill="#222"/><circle cx="-0.045" cy="-0.05" r="0.27" fill="none" stroke="#6e6e6e" stroke-width="0.025"/></g>
<g transform="matrix(13.78 -5.61 0 13.6 627.11 200.71)"><circle r="0.42" fill="#a4a4a4" stroke="#5a5a5a" stroke-width="0.03"/><circle cx="-0.045" cy="-0.05" r="0.27" fill="#222"/><circle cx="-0.045" cy="-0.05" r="0.27" fill="none" stroke="#6e6e6e" stroke-width="0.025"/></g>
<g transform="matrix(13.78 -5.61 0 13.6 640.94 195.07)"><circle r="0.42" fill="#a4a4a4" stroke="#5a5a5a" stroke-width="0.03"/><circle cx="-0.045" cy="-0.05" r="0.27" fill="#222"/><circle cx="-0.045" cy="-0.05" r="0.27" fill="none" stroke="#6e6e6e" stroke-width="0.025"/></g>
<g transform="matrix(13.78 -5.61 0 13.6 654.77 189.44)"><circle r="0.42" fill="#a4a4a4" stroke="#5a5a5a" stroke-width="0.03"/><circle cx="-0.045" cy="-0.05" r="0.27" fill="#222"/><circle cx="-0.045" cy="-0.05" r="0.27" fill="none" stroke="#6e6e6e" stroke-width="0.025"/></g>
<g transform="matrix(13.78 -5.61 0 13.6 668.6 183.81)"><circle r="0.42" fill="#a4a4a4" stroke="#5a5a5a" stroke-width="0.03"/><circle cx="-0.045" cy="-0.05" r="0.27" fill="#222"/><circle cx="-0.045" cy="-0.05" r="0.27" fill="none" stroke="#6e6e6e" stroke-width="0.025"/></g>
<g transform="matrix(13.78 -5.61 0 13.6 682.43 178.18)"><circle r="0.42" fill="#a4a4a4" stroke="#5a5a5a" stroke-width="0.03"/><circle cx="-0.045" cy="-0.05" r="0.27" fill="#222"/><circle cx="-0.045" cy="-0.05" r="0.27" fill="none" stroke="#6e6e6e" stroke-width="0.025"/></g>
<g transform="matrix(13.78 -5.61 0 13.6 696.26 172.55)"><circle r="0.42" fill="#a4a4a4" stroke="#5a5a5a" stroke-width="0.03"/><circle cx="-0.045" cy="-0.05" r="0.27" fill="#222"/><circle cx="-0.045" cy="-0.05" r="0.27" fill="none" stroke="#6e6e6e" stroke-width="0.025"/></g>
<g transform="matrix(13.78 -5.61 -9.65 -7.5 480.81 235.84)"><circle r="0.35" fill="#1e1e1e" stroke="#9a9a9a" stroke-width="0.07"/></g>
<rect x="475.39" y="233.84" width="10.84" height="2" fill="#1c1c1c"/>
<g transform="matrix(13.78 -5.61 -9.65 -7.5 480.81 233.84)"><circle r="0.34" fill="#b0b0b0"/><circle r="0.24" fill="#9a9a9a"/><circle cy="0.075" cx="0.05" r="0.18" fill="#1a1a1a"/><circle r="0.34" fill="none" stroke="#5c5c5c" stroke-width="0.03"/></g>
<g transform="matrix(13.78 -5.61 -9.65 -7.5 494.76 230.16)"><circle r="0.35" fill="#1e1e1e" stroke="#9a9a9a" stroke-width="0.07"/></g>
<rect x="489.34" y="228.16" width="10.84" height="2" fill="#1c1c1c"/>
<g transform="matrix(13.78 -5.61 -9.65 -7.5 494.76 228.16)"><circle r="0.34" fill="#b0b0b0"/><circle r="0.24" fill="#9a9a9a"/><circle cy="0.075" cx="0.05" r="0.18" fill="#1a1a1a"/><circle r="0.34" fill="none" stroke="#5c5c5c" stroke-width="0.03"/></g>
<g transform="matrix(13.78 -5.61 -9.65 -7.5 508.71 224.48)"><circle r="0.35" fill="#1e1e1e" stroke="#9a9a9a" stroke-width="0.07"/></g>
<rect x="503.29" y="222.48" width="10.84" height="2" fill="#1c1c1c"/>
<g transform="matrix(13.78 -5.61 -9.65 -7.5 508.71 222.48)"><circle r="0.34" fill="#b0b0b0"/><circle r="0.24" fill="#9a9a9a"/><circle cy="0.075" cx="0.05" r="0.18" fill="#1a1a1a"/><circle r="0.34" fill="none" stroke="#5c5c5c" stroke-width="0.03"/></g>
<g transform="matrix(13.78 -5.61 -9.65 -7.5 522.65 218.8)"><circle r="0.35" fill="#1e1e1e" stroke="#9a9a9a" stroke-width="0.07"/></g>
<rect x="517.24" y="216.8" width="10.84" height="2" fill="#1c1c1c"/>
<g transform="matrix(13.78 -5.61 -9.65 -7.5 522.65 216.8)"><circle r="0.34" fill="#b0b0b0"/><circle r="0.24" fill="#9a9a9a"/><circle cy="0.075" cx="0.05" r="0.18" fill="#1a1a1a"/><circle r="0.34" fill="none" stroke="#5c5c5c" stroke-width="0.03"/></g>
<g transform="matrix(13.78 -5.61 -9.65 -7.5 536.6 213.12)"><circle r="0.35" fill="#1e1e1e" stroke="#9a9a9a" stroke-width="0.07"/></g>
<rect x="531.18" y="211.12" width="10.84" height="2" fill="#1c1c1c"/>
<g transform="matrix(13.78 -5.61 -9.65 -7.5 536.6 211.12)"><circle r="0.34" fill="#b0b0b0"/><circle r="0.24" fill="#9a9a9a"/><circle cy="0.075" cx="0.05" r="0.18" fill="#1a1a1a"/><circle r="0.34" fill="none" stroke="#5c5c5c" stroke-width="0.03"/></g>
<g transform="matrix(13.78 -5.61 -9.65 -7.5 550.55 207.44)"><circle r="0.35" fill="#1e1e1e" stroke="#9a9a9a" stroke-width="0.07"/></g>
<rect x="545.13" y="205.44" width="10.84" height="2" fill="#1c1c1c"/>
<g transform="matrix(13.78 -5.61 -9.65 -7.5 550.55 205.44)"><circle r="0.34" fill="#b0b0b0"/><circle r="0.24" fill="#9a9a9a"/><circle cy="0.075" cx="0.05" r="0.18" fill="#1a1a1a"/><circle r="0.34" fill="none" stroke="#5c5c5c" stroke-width="0.03"/></g>
<g transform="matrix(13.78 -5.61 -9.65 -7.5 564.5 201.76)"><circle r="0.35" fill="#1e1e1e" stroke="#9a9a9a" stroke-width="0.07"/></g>
<rect x="559.08" y="199.76" width="10.84" height="2" fill="#1c1c1c"/>
<g transform="matrix(13.78 -5.61 -9.65 -7.5 564.5 199.76)"><circle r="0.34" fill="#b0b0b0"/><circle r="0.24" fill="#9a9a9a"/><circle cy="0.075" cx="0.05" r="0.18" fill="#1a1a1a"/><circle r="0.34" fill="none" stroke="#5c5c5c" stroke-width="0.03"/></g>
<g transform="matrix(13.78 -5.61 -9.65 -7.5 578.44 196.08)"><circle r="0.35" fill="#1e1e1e" stroke="#9a9a9a" stroke-width="0.07"/></g>
<rect x="573.02" y="194.08" width="10.84" height="2" fill="#1c1c1c"/>
<g transform="matrix(13.78 -5.61 -9.65 -7.5 578.44 194.08)"><circle r="0.34" fill="#b0b0b0"/><circle r="0.24" fill="#9a9a9a"/><circle cy="0.075" cx="0.05" r="0.18" fill="#1a1a1a"/><circle r="0.34" fill="none" stroke="#5c5c5c" stroke-width="0.03"/></g>
<g transform="matrix(13.78 -5.61 -9.65 -7.5 592.39 190.4)"><circle r="0.35" fill="#1e1e1e" stroke="#9a9a9a" stroke-width="0.07"/></g>
<rect x="586.97" y="188.4" width="10.84" height="2" fill="#1c1c1c"/>
<g transform="matrix(13.78 -5.61 -9.65 -7.5 592.39 188.4)"><circle r="0.34" fill="#b0b0b0"/><circle r="0.24" fill="#9a9a9a"/><circle cy="0.075" cx="0.05" r="0.18" fill="#1a1a1a"/><circle r="0.34" fill="none" stroke="#5c5c5c" stroke-width="0.03"/></g>
<g transform="matrix(13.78 -5.61 -9.65 -7.5 606.34 184.72)"><circle r="0.35" fill="#1e1e1e" stroke="#9a9a9a" stroke-width="0.07"/></g>
<rect x="600.92" y="182.72" width="10.84" height="2" fill="#1c1c1c"/>
<g transform="matrix(13.78 -5.61 -9.65 -7.5 606.34 182.72)"><circle r="0.34" fill="#b0b0b0"/><circle r="0.24" fill="#9a9a9a"/><circle cy="0.075" cx="0.05" r="0.18" fill="#1a1a1a"/><circle r="0.34" fill="none" stroke="#5c5c5c" stroke-width="0.03"/></g>
<g transform="matrix(13.78 -5.61 -9.65 -7.5 490.46 243.34)"><circle r="0.35" fill="#1e1e1e" stroke="#9a9a9a" stroke-width="0.07"/></g>
<rect x="485.04" y="241.34" width="10.84" height="2" fill="#1c1c1c"/>
<g transform="matrix(13.78 -5.61 -9.65 -7.5 490.46 241.34)"><circle r="0.34" fill="#b0b0b0"/><circle r="0.24" fill="#9a9a9a"/><circle cy="0.075" cx="0.05" r="0.18" fill="#1a1a1a"/><circle r="0.34" fill="none" stroke="#5c5c5c" stroke-width="0.03"/></g>
<g transform="matrix(13.78 -5.61 -9.65 -7.5 504.41 237.66)"><circle r="0.35" fill="#1e1e1e" stroke="#9a9a9a" stroke-width="0.07"/></g>
<rect x="498.99" y="235.66" width="10.84" height="2" fill="#1c1c1c"/>
<g transform="matrix(13.78 -5.61 -9.65 -7.5 504.41 235.66)"><circle r="0.34" fill="#b0b0b0"/><circle r="0.24" fill="#9a9a9a"/><circle cy="0.075" cx="0.05" r="0.18" fill="#1a1a1a"/><circle r="0.34" fill="none" stroke="#5c5c5c" stroke-width="0.03"/></g>
<g transform="matrix(13.78 -5.61 -9.65 -7.5 518.36 231.98)"><circle r="0.35" fill="#1e1e1e" stroke="#9a9a9a" stroke-width="0.07"/></g>
<rect x="512.94" y="229.98" width="10.84" height="2" fill="#1c1c1c"/>
<g transform="matrix(13.78 -5.61 -9.65 -7.5 518.36 229.98)"><circle r="0.34" fill="#b0b0b0"/><circle r="0.24" fill="#9a9a9a"/><circle cy="0.075" cx="0.05" r="0.18" fill="#1a1a1a"/><circle r="0.34" fill="none" stroke="#5c5c5c" stroke-width="0.03"/></g>
<g transform="matrix(13.78 -5.61 -9.65 -7.5 532.3 226.3)"><circle r="0.35" fill="#1e1e1e" stroke="#9a9a9a" stroke-width="0.07"/></g>
<rect x="526.89" y="224.3" width="10.84" height="2" fill="#1c1c1c"/>
<g transform="matrix(13.78 -5.61 -9.65 -7.5 532.3 224.3)"><circle r="0.34" fill="#b0b0b0"/><circle r="0.24" fill="#9a9a9a"/><circle cy="0.075" cx="0.05" r="0.18" fill="#1a1a1a"/><circle r="0.34" fill="none" stroke="#5c5c5c" stroke-width="0.03"/></g>
<g transform="matrix(13.78 -5.61 -9.65 -7.5 546.25 220.62)"><circle r="0.35" fill="#1e1e1e" stroke="#9a9a9a" stroke-width="0.07"/></g>
<rect x="540.83" y="218.62" width="10.84" height="2" fill="#1c1c1c"/>
<g transform="matrix(13.78 -5.61 -9.65 -7.5 546.25 218.62)"><circle r="0.34" fill="#b0b0b0"/><circle r="0.24" fill="#9a9a9a"/><circle cy="0.075" cx="0.05" r="0.18" fill="#1a1a1a"/><circle r="0.34" fill="none" stroke="#5c5c5c" stroke-width="0.03"/></g>
<g transform="matrix(13.78 -5.61 -9.65 -7.5 560.2 214.94)"><circle r="0.35" fill="#1e1e1e" stroke="#9a9a9a" stroke-width="0.07"/></g>
<rect x="554.78" y="212.94" width="10.84" height="2" fill="#1c1c1c"/>
<g transform="matrix(13.78 -5.61 -9.65 -7.5 560.2 212.94)"><circle r="0.34" fill="#b0b0b0"/><circle r="0.24" fill="#9a9a9a"/><circle cy="0.075" cx="0.05" r="0.18" fill="#1a1a1a"/><circle r="0.34" fill="none" stroke="#5c5c5c" stroke-width="0.03"/></g>
<g transform="matrix(13.78 -5.61 -9.65 -7.5 574.15 209.26)"><circle r="0.35" fill="#1e1e1e" stroke="#9a9a9a" stroke-width="0.07"/></g>
<rect x="568.73" y="207.26" width="10.84" height="2" fill="#1c1c1c"/>
<g transform="matrix(13.78 -5.61 -9.65 -7.5 574.15 207.26)"><circle r="0.34" fill="#b0b0b0"/><circle r="0.24" fill="#9a9a9a"/><circle cy="0.075" cx="0.05" r="0.18" fill="#1a1a1a"/><circle r="0.34" fill="none" stroke="#5c5c5c" stroke-width="0.03"/></g>
<g transform="matrix(13.78 -5.61 -9.65 -7.5 588.09 203.58)"><circle r="0.35" fill="#1e1e1e" stroke="#9a9a9a" stroke-width="0.07"/></g>
<rect x="582.67" y="201.58" width="10.84" height="2" fill="#1c1c1c"/>
<g transform="matrix(13.78 -5.61 -9.65 -7.5 588.09 201.58)"><circle r="0.34" fill="#b0b0b0"/><circle r="0.24" fill="#9a9a9a"/><circle cy="0.075" cx="0.05" r="0.18" fill="#1a1a1a"/><circle r="0.34" fill="none" stroke="#5c5c5c" stroke-width="0.03"/></g>
<g transform="matrix(13.78 -5.61 -9.65 -7.5 602.04 197.9)"><circle r="0.35" fill="#1e1e1e" stroke="#9a9a9a" stroke-width="0.07"/></g>
<rect x="596.62" y="195.9" width="10.84" height="2" fill="#1c1c1c"/>
<g transform="matrix(13.78 -5.61 -9.65 -7.5 602.04 195.9)"><circle r="0.34" fill="#b0b0b0"/><circle r="0.24" fill="#9a9a9a"/><circle cy="0.075" cx="0.05" r="0.18" fill="#1a1a1a"/><circle r="0.34" fill="none" stroke="#5c5c5c" stroke-width="0.03"/></g>
<g transform="matrix(13.78 -5.61 -9.65 -7.5 615.99 192.22)"><circle r="0.35" fill="#1e1e1e" stroke="#9a9a9a" stroke-width="0.07"/></g>
<rect x="610.57" y="190.22" width="10.84" height="2" fill="#1c1c1c"/>
<g transform="matrix(13.78 -5.61 -9.65 -7.5 615.99 190.22)"><circle r="0.34" fill="#b0b0b0"/><circle r="0.24" fill="#9a9a9a"/><circle cy="0.075" cx="0.05" r="0.18" fill="#1a1a1a"/><circle r="0.34" fill="none" stroke="#5c5c5c" stroke-width="0.03"/></g>
<polygon points="627.8,193.13 708.8,160.14 708.8,155.14 689.5,140.14 608.5,173.13 608.5,178.13" fill="#2c2c2c" stroke="#151515" stroke-width="0.9" stroke-linejoin="round" />
<polygon points="627.8,188.13 708.8,155.14 689.5,140.14 608.5,173.13" fill="#303030" stroke="none" stroke-width="0" stroke-linejoin="round" />
<line x1="627.8" y1="188.13" x2="708.8" y2="155.14" stroke="#a5a5a5" stroke-width="0.9" stroke-linecap="round" />
<line x1="627.8" y1="188.13" x2="608.5" y2="173.13" stroke="#a5a5a5" stroke-width="0.9" stroke-linecap="round" />
<line x1="627.8" y1="193.13" x2="627.8" y2="188.13" stroke="#a5a5a5" stroke-width="0.8" stroke-linecap="round" />
<g transform="matrix(13.78 -5.61 0 13.6 628.35 200.4)"><circle r="0.42" fill="#222" stroke="#b8b8b8" stroke-width="0.06"/></g>
<g transform="translate(631.25 202.65) rotate(37.85)"><ellipse cx="0" cy="0" rx="2.61" ry="3.9" fill="#262626" stroke="#b5b5b5" stroke-width="0.7"/><rect x="0" y="-3.9" width="8.56" height="7.8" fill="#262626"/><line x1="0" y1="-3.9" x2="8.56" y2="-3.9" stroke="#b5b5b5" stroke-width="0.7"/><line x1="0" y1="3.9" x2="8.56" y2="3.9" stroke="#b5b5b5" stroke-width="0.7"/><ellipse cx="8.56" cy="0" rx="2.61" ry="3.9" fill="#2a2a2a" stroke="#b5b5b5" stroke-width="0.7"/></g>
<line x1="637.7" y1="205.7" x2="638.3" y2="209.9" stroke="#a8a8a8" stroke-width="0.9" stroke-linecap="round" />
<g transform="translate(502.17 252.09) rotate(37.85)"><ellipse cx="0" cy="0" rx="6.82" ry="9.2" fill="#b4d589" /><rect x="0" y="-9.2" width="10.39" height="18.4" fill="#b4d589"/><ellipse cx="10.39" cy="0" rx="6.82" ry="9.2" fill="#b4d589" /></g>
<g transform="translate(509.89 258.09) rotate(37.85)"><ellipse cx="0" cy="0" rx="5.22" ry="6.8" fill="#b4d589" /><rect x="0" y="-6.8" width="16.5" height="13.6" fill="#b4d589"/><ellipse cx="16.5" cy="0" rx="5.22" ry="6.8" fill="#b4d589" /></g>
<g transform="translate(502.17 252.09) rotate(37.85)"><ellipse cx="0" cy="0" rx="4.82" ry="7.2" fill="#2c2c2c" /><rect x="0" y="-7.2" width="10.39" height="14.4" fill="#2c2c2c"/><ellipse cx="10.39" cy="0" rx="4.82" ry="7.2" fill="#2c2c2c" /></g>
<ellipse cx="510.38" cy="258.46" rx="4.6" ry="6.6" transform="rotate(-52 510.38 258.46)" fill="none" stroke="#9a9a9a" stroke-width="0.7"/>
<ellipse cx="510.69" cy="258.69" rx="3.4" ry="5.0" transform="rotate(-52 510.69 258.69)" fill="none" stroke="#c0c0c0" stroke-width="0.9"/>
<g transform="translate(509.89 258.09) rotate(37.85)"><ellipse cx="0" cy="0" rx="3.22" ry="4.8" fill="#1f5fc4" stroke="#0c3a88" stroke-width="0.6"/><rect x="0" y="-4.8" width="16.5" height="9.6" fill="#1f5fc4"/><line x1="0" y1="-4.8" x2="16.5" y2="-4.8" stroke="#0c3a88" stroke-width="0.6"/><line x1="0" y1="4.8" x2="16.5" y2="4.8" stroke="#0c3a88" stroke-width="0.6"/><ellipse cx="16.5" cy="0" rx="3.22" ry="4.8" fill="#1d57b8" stroke="#0c3a88" stroke-width="0.6"/></g>
<ellipse cx="522.92" cy="268.21" rx="1.4" ry="2.0" transform="rotate(-52 522.92 268.21)" fill="#0c3a88"/>
<ellipse cx="515.2" cy="262.21" rx="2.8" ry="4.1" transform="rotate(-52 515.2 262.21)" fill="none" stroke="#0c3a88" stroke-width="0.6"/>
<line x1="475.7" y1="96.2" x2="577" y2="96.2" stroke="#333" stroke-width="1.2"/>
<line x1="475.7" y1="96.2" x2="475.7" y2="206" stroke="#111" stroke-width="1.2"/>
<polygon points="470.6,203.5 481,203.5 476,217.5" fill="#000" stroke="none" stroke-width="0" stroke-linejoin="round" />
<line x1="513.6" y1="96.2" x2="513.6" y2="236" stroke="#111" stroke-width="1.2"/>
<polygon points="508.3,234 518.8,234 513.6,248" fill="#000" stroke="#e8e8e8" stroke-width="0.9" stroke-linejoin="round" />
<rect x="577.6" y="59.2" width="147" height="68.2" rx="7.5" fill="#fdf2cd" stroke="#555" stroke-width="1.2"/>
<text x="697.6" y="118.2" font-family="Liberation Sans, sans-serif" font-weight="bold" font-size="15.6" fill="#111">2x</text>
<g transform="translate(589.6 73.9) rotate(22.26)"><ellipse cx="0" cy="0" rx="2.21" ry="4.9" fill="#1f5fc4" stroke="#0b3a8c" stroke-width="0.8"/><rect x="0" y="-4.9" width="44.09" height="9.8" fill="#1f5fc4"/><line x1="0" y1="-4.9" x2="44.09" y2="-4.9" stroke="#0b3a8c" stroke-width="0.8"/><line x1="0" y1="4.9" x2="44.09" y2="4.9" stroke="#0b3a8c" stroke-width="0.8"/><ellipse cx="44.09" cy="0" rx="2.21" ry="4.9" fill="#2a66c8" stroke="#0b3a8c" stroke-width="0.8"/></g>
<g transform="translate(602.5 79.2) rotate(21.8)"><ellipse cx="0" cy="0" rx="2.35" ry="5.6" fill="#1f5fc4" stroke="#0b3a8c" stroke-width="0.8"/><rect x="0" y="-5.6" width="4.31" height="11.2" fill="#1f5fc4"/><line x1="0" y1="-5.6" x2="4.31" y2="-5.6" stroke="#0b3a8c" stroke-width="0.8"/><line x1="0" y1="5.6" x2="4.31" y2="5.6" stroke="#0b3a8c" stroke-width="0.8"/><ellipse cx="4.31" cy="0" rx="2.35" ry="5.6" fill="#1f5fc4" stroke="#0b3a8c" stroke-width="0.8"/></g>
<line x1="609" y1="76.8" x2="622" y2="82.2" stroke="#0b3a8c" stroke-width="1.4" stroke-linecap="round"/>
<ellipse cx="630.4" cy="90.6" rx="1.6" ry="2.7" transform="rotate(22 630.4 90.6)" fill="#113f90"/>
<line x1="691.8" y1="115.6" x2="645" y2="96.8" stroke="#cf1020" stroke-width="1.3" stroke-linecap="round" />
<polygon points="633.8,92.2 647.6,93.4 644.4,100.9" fill="#cf1020" stroke="none" stroke-width="0" stroke-linejoin="round" />
<g transform="translate(665.5 104.3) rotate(21.87)"><ellipse cx="0" cy="0" rx="3.6" ry="8" fill="#2b2b2b" /><rect x="0" y="-8" width="14.76" height="16" fill="#2b2b2b"/><ellipse cx="14.76" cy="0" rx="3.6" ry="8" fill="#b8b8b8" /></g>
<ellipse cx="679.6" cy="109.9" rx="2.5" ry="5.6" transform="rotate(22 679.6 109.9)" fill="#1d1d1d"/>
<line x1="678.5" y1="109" x2="691.8" y2="115.6" stroke="#cf1020" stroke-width="1.3" stroke-linecap="round" />
<g transform="translate(482.77 485.79) rotate(-142.15)"><ellipse cx="0" cy="0" rx="4.69" ry="7" fill="#2c2c2c" /><rect x="0" y="-7" width="17.72" height="14" fill="#2c2c2c"/><ellipse cx="17.72" cy="0" rx="4.69" ry="7" fill="#2c2c2c" /></g>
<g transform="translate(469.26 475.29) rotate(-142.15)"><ellipse cx="0" cy="0" rx="2.88" ry="4.3" fill="#1f5fc4" stroke="#0c3a88" stroke-width="0.6"/><rect x="0" y="-4.3" width="7.94" height="8.6" fill="#1f5fc4"/><line x1="0" y1="-4.3" x2="7.94" y2="-4.3" stroke="#0c3a88" stroke-width="0.6"/><line x1="0" y1="4.3" x2="7.94" y2="4.3" stroke="#0c3a88" stroke-width="0.6"/><ellipse cx="7.94" cy="0" rx="2.88" ry="4.3" fill="#1d57b8" stroke="#0c3a88" stroke-width="0.6"/></g>
<g transform="translate(609.51 435.38) rotate(-142.15)"><ellipse cx="0" cy="0" rx="2.68" ry="4" fill="#3a3a3a" stroke="#c8c8c8" stroke-width="0.8"/><rect x="0" y="-4" width="12.22" height="8" fill="#3a3a3a"/><line x1="0" y1="-4" x2="12.22" y2="-4" stroke="#c8c8c8" stroke-width="0.8"/><line x1="0" y1="4" x2="12.22" y2="4" stroke="#c8c8c8" stroke-width="0.8"/><ellipse cx="12.22" cy="0" rx="2.68" ry="4" fill="#505050" stroke="#c8c8c8" stroke-width="0.8"/></g>
<polygon points="488.3,522.4 708.7,432.64 708.7,410.84 689.4,395.84 469,485.6 469,507.4" fill="#2c2c2c" stroke="#151515" stroke-width="0.9" stroke-linejoin="round" />
<polygon points="488.3,500.6 708.7,410.84 689.4,395.84 469,485.6" fill="#303030" stroke="none" stroke-width="0" stroke-linejoin="round" />
<line x1="488.3" y1="522.4" x2="488.3" y2="500.6" stroke="#bdbdbd" stroke-width="0.8" stroke-linecap="round" />
<line x1="488.3" y1="500.6" x2="708.7" y2="410.84" stroke="#bdbdbd" stroke-width="0.8" stroke-linecap="round" />
<line x1="488.3" y1="500.6" x2="469" y2="485.6" stroke="#bdbdbd" stroke-width="0.8" stroke-linecap="round" />
<line x1="478.65" y1="509.9" x2="478.65" y2="493.1" stroke="#bdbdbd" stroke-width="0.8" stroke-linecap="round" />
<line x1="488.3" y1="517.4" x2="708.7" y2="427.64" stroke="#a8a8a8" stroke-width="0.75" stroke-linecap="round" />
<line x1="488.3" y1="517.4" x2="469" y2="502.4" stroke="#a8a8a8" stroke-width="0.75" stroke-linecap="round" />
<g transform="matrix(13.78 -5.61 0 13.6 502.54 502.1)"><circle r="0.42" fill="#a4a4a4" stroke="#5a5a5a" stroke-width="0.03"/><circle cx="-0.045" cy="-0.05" r="0.27" fill="#222"/><circle cx="-0.045" cy="-0.05" r="0.27" fill="none" stroke="#6e6e6e" stroke-width="0.025"/></g>
<g transform="matrix(13.78 -5.61 0 13.6 516.37 496.47)"><circle r="0.42" fill="#a4a4a4" stroke="#5a5a5a" stroke-width="0.03"/><circle cx="-0.045" cy="-0.05" r="0.27" fill="#222"/><circle cx="-0.045" cy="-0.05" r="0.27" fill="none" stroke="#6e6e6e" stroke-width="0.025"/></g>
<g transform="matrix(13.78 -5.61 0 13.6 530.2 490.83)"><circle r="0.42" fill="#a4a4a4" stroke="#5a5a5a" stroke-width="0.03"/><circle cx="-0.045" cy="-0.05" r="0.27" fill="#222"/><circle cx="-0.045" cy="-0.05" r="0.27" fill="none" stroke="#6e6e6e" stroke-width="0.025"/></g>
<g transform="matrix(13.78 -5.61 0 13.6 544.03 485.2)"><circle r="0.42" fill="#a4a4a4" stroke="#5a5a5a" stroke-width="0.03"/><circle cx="-0.045" cy="-0.05" r="0.27" fill="#222"/><circle cx="-0.045" cy="-0.05" r="0.27" fill="none" stroke="#6e6e6e" stroke-width="0.025"/></g>
<g transform="matrix(13.78 -5.61 0 13.6 557.86 479.57)"><circle r="0.42" fill="#a4a4a4" stroke="#5a5a5a" stroke-width="0.03"/><circle cx="-0.045" cy="-0.05" r="0.27" fill="#222"/><circle cx="-0.045" cy="-0.05" r="0.27" fill="none" stroke="#6e6e6e" stroke-width="0.025"/></g>
<g transform="matrix(13.78 -5.61 0 13.6 571.69 473.94)"><circle r="0.42" fill="#a4a4a4" stroke="#5a5a5a" stroke-width="0.03"/><circle cx="-0.045" cy="-0.05" r="0.27" fill="#222"/><circle cx="-0.045" cy="-0.05" r="0.27" fill="none" stroke="#6e6e6e" stroke-width="0.025"/></g>
<g transform="matrix(13.78 -5.61 0 13.6 585.52 468.3)"><circle r="0.42" fill="#a4a4a4" stroke="#5a5a5a" stroke-width="0.03"/><circle cx="-0.045" cy="-0.05" r="0.27" fill="#222"/><circle cx="-0.045" cy="-0.05" r="0.27" fill="none" stroke="#6e6e6e" stroke-width="0.025"/></g>
<g transform="matrix(13.78 -5.61 0 13.6 599.35 462.67)"><circle r="0.42" fill="#a4a4a4" stroke="#5a5a5a" stroke-width="0.03"/><circle cx="-0.045" cy="-0.05" r="0.27" fill="#222"/><circle cx="-0.045" cy="-0.05" r="0.27" fill="none" stroke="#6e6e6e" stroke-width="0.025"/></g>
<g transform="matrix(13.78 -5.61 0 13.6 613.18 457.04)"><circle r="0.42" fill="#a4a4a4" stroke="#5a5a5a" stroke-width="0.03"/><circle cx="-0.045" cy="-0.05" r="0.27" fill="#222"/><circle cx="-0.045" cy="-0.05" r="0.27" fill="none" stroke="#6e6e6e" stroke-width="0.025"/></g>
<g transform="matrix(13.78 -5.61 0 13.6 627.01 451.41)"><circle r="0.42" fill="#a4a4a4" stroke="#5a5a5a" stroke-width="0.03"/><circle cx="-0.045" cy="-0.05" r="0.27" fill="#222"/><circle cx="-0.045" cy="-0.05" r="0.27" fill="none" stroke="#6e6e6e" stroke-width="0.025"/></g>
<g transform="matrix(13.78 -5.61 0 13.6 640.84 445.77)"><circle r="0.42" fill="#a4a4a4" stroke="#5a5a5a" stroke-width="0.03"/><circle cx="-0.045" cy="-0.05" r="0.27" fill="#222"/><circle cx="-0.045" cy="-0.05" r="0.27" fill="none" stroke="#6e6e6e" stroke-width="0.025"/></g>
<g transform="matrix(13.78 -5.61 0 13.6 654.67 440.14)"><circle r="0.42" fill="#a4a4a4" stroke="#5a5a5a" stroke-width="0.03"/><circle cx="-0.045" cy="-0.05" r="0.27" fill="#222"/><circle cx="-0.045" cy="-0.05" r="0.27" fill="none" stroke="#6e6e6e" stroke-width="0.025"/></g>
<g transform="matrix(13.78 -5.61 0 13.6 668.5 434.51)"><circle r="0.42" fill="#a4a4a4" stroke="#5a5a5a" stroke-width="0.03"/><circle cx="-0.045" cy="-0.05" r="0.27" fill="#222"/><circle cx="-0.045" cy="-0.05" r="0.27" fill="none" stroke="#6e6e6e" stroke-width="0.025"/></g>
<g transform="matrix(13.78 -5.61 0 13.6 682.33 428.88)"><circle r="0.42" fill="#a4a4a4" stroke="#5a5a5a" stroke-width="0.03"/><circle cx="-0.045" cy="-0.05" r="0.27" fill="#222"/><circle cx="-0.045" cy="-0.05" r="0.27" fill="none" stroke="#6e6e6e" stroke-width="0.025"/></g>
<g transform="matrix(13.78 -5.61 0 13.6 696.16 423.25)"><circle r="0.42" fill="#a4a4a4" stroke="#5a5a5a" stroke-width="0.03"/><circle cx="-0.045" cy="-0.05" r="0.27" fill="#222"/><circle cx="-0.045" cy="-0.05" r="0.27" fill="none" stroke="#6e6e6e" stroke-width="0.025"/></g>
<polygon points="488.3,500.6 627.43,443.94 627.43,438.94 608.13,423.94 469,480.6 469,485.6" fill="none" stroke="#b4d589" stroke-width="4.4" stroke-linejoin="round" />
<polygon points="488.3,500.6 708.7,410.84 708.7,405.84 689.4,390.84 469,480.6 469,485.6" fill="#2c2c2c" stroke="#151515" stroke-width="0.9" stroke-linejoin="round" />
<polygon points="488.3,495.6 708.7,405.84 689.4,390.84 469,480.6" fill="#303030" stroke="none" stroke-width="0" stroke-linejoin="round" />
<line x1="488.3" y1="495.6" x2="708.7" y2="405.84" stroke="#a5a5a5" stroke-width="0.9" stroke-linecap="round" />
<line x1="488.3" y1="495.6" x2="469" y2="480.6" stroke="#a5a5a5" stroke-width="0.9" stroke-linecap="round" />
<line x1="488.3" y1="500.6" x2="488.3" y2="495.6" stroke="#a5a5a5" stroke-width="0.8" stroke-linecap="round" />
<line x1="515.85" y1="489.38" x2="515.85" y2="484.38" stroke="#9a9a9a" stroke-width="0.8" stroke-linecap="round" />
<line x1="515.85" y1="484.38" x2="496.55" y2="469.38" stroke="#9a9a9a" stroke-width="0.8" stroke-linecap="round" />
<line x1="598.5" y1="455.72" x2="598.5" y2="450.72" stroke="#9a9a9a" stroke-width="0.8" stroke-linecap="round" />
<line x1="598.5" y1="450.72" x2="579.2" y2="435.72" stroke="#9a9a9a" stroke-width="0.8" stroke-linecap="round" />
<line x1="627.43" y1="443.94" x2="627.43" y2="438.94" stroke="#b4d589" stroke-width="2.2" stroke-linecap="round" />
<line x1="627.43" y1="438.94" x2="608.13" y2="423.94" stroke="#b4d589" stroke-width="2.2" stroke-linecap="round" />
<g transform="matrix(13.78 -5.61 0 13.6 628.25 451.1)"><circle r="0.42" fill="#222" stroke="#b8b8b8" stroke-width="0.06"/></g>
<g transform="translate(631.15 453.35) rotate(37.85)"><ellipse cx="0" cy="0" rx="2.61" ry="3.9" fill="#262626" stroke="#b5b5b5" stroke-width="0.7"/><rect x="0" y="-3.9" width="8.56" height="7.8" fill="#262626"/><line x1="0" y1="-3.9" x2="8.56" y2="-3.9" stroke="#b5b5b5" stroke-width="0.7"/><line x1="0" y1="3.9" x2="8.56" y2="3.9" stroke="#b5b5b5" stroke-width="0.7"/><ellipse cx="8.56" cy="0" rx="2.61" ry="3.9" fill="#2a2a2a" stroke="#b5b5b5" stroke-width="0.7"/></g>
<line x1="637.6" y1="456.4" x2="638.2" y2="460.6" stroke="#a8a8a8" stroke-width="0.9" stroke-linecap="round" />
<g transform="translate(502.07 502.79) rotate(37.85)"><ellipse cx="0" cy="0" rx="4.82" ry="7.2" fill="#2c2c2c" /><rect x="0" y="-7.2" width="10.39" height="14.4" fill="#2c2c2c"/><ellipse cx="10.39" cy="0" rx="4.82" ry="7.2" fill="#2c2c2c" /></g>
<ellipse cx="510.28" cy="509.16" rx="4.6" ry="6.6" transform="rotate(-52 510.28 509.16)" fill="none" stroke="#9a9a9a" stroke-width="0.7"/>
<ellipse cx="510.6" cy="509.39" rx="3.4" ry="5.0" transform="rotate(-52 510.6 509.39)" fill="none" stroke="#c0c0c0" stroke-width="0.9"/>
<g transform="translate(509.8 508.79) rotate(37.85)"><ellipse cx="0" cy="0" rx="3.22" ry="4.8" fill="#1f5fc4" stroke="#0c3a88" stroke-width="0.6"/><rect x="0" y="-4.8" width="16.5" height="9.6" fill="#1f5fc4"/><line x1="0" y1="-4.8" x2="16.5" y2="-4.8" stroke="#0c3a88" stroke-width="0.6"/><line x1="0" y1="4.8" x2="16.5" y2="4.8" stroke="#0c3a88" stroke-width="0.6"/><ellipse cx="16.5" cy="0" rx="3.22" ry="4.8" fill="#1d57b8" stroke="#0c3a88" stroke-width="0.6"/></g>
<ellipse cx="522.82" cy="518.91" rx="1.4" ry="2.0" transform="rotate(-52 522.82 518.91)" fill="#0c3a88"/>
<ellipse cx="515.1" cy="512.91" rx="2.8" ry="4.1" transform="rotate(-52 515.1 512.91)" fill="none" stroke="#0c3a88" stroke-width="0.6"/>
</svg>
</body></html>
